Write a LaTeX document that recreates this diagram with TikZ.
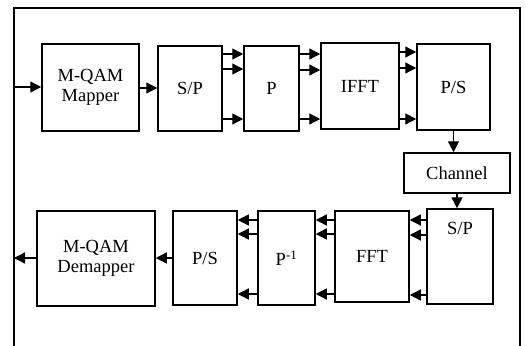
\documentclass[tikz,border=0pt]{standalone}
\usepackage{fontspec}
\setmainfont{Liberation Serif}
\usetikzlibrary{arrows.meta}
\begin{document}
\begin{tikzpicture}[x=1pt,y=-1pt,
  box/.style={draw, line width=1.5pt, inner sep=0pt, align=center,
    font=\fontsize{18.5}{20}\selectfont},
  lbl/.style={inner sep=0pt, font=\fontsize{18.5}{20}\selectfont},
  arr/.style={line width=1.3pt, -{Triangle[length=11pt,width=11pt]}},
  frame/.style={line width=1.7pt}]
\useasboundingbox (0,0) rectangle (526,345);
% outer frame (bottom edge outside the picture)
\draw[frame] (14,350) -- (14,8) -- (520,8) -- (520,350);
% top row
\node[box, minimum width=97pt, minimum height=87pt] (map) at (90.5,87.5) {M-QAM\\Mapper};
\node[box, minimum width=64pt, minimum height=85pt] (sp1) at (190,88.5) {S/P};
\node[box, minimum width=55pt, minimum height=85pt] (p) at (271.5,88.5) {P};
\node[box, minimum width=78pt, minimum height=86pt] (ifft) at (360,86) {IFFT};
\node[box, minimum width=73pt, minimum height=86pt] (ps1) at (453.5,87) {P/S};
\node[box, minimum width=106pt, minimum height=40pt] (chan) at (457,173) {Channel};
% bottom row
\node[box, minimum width=66pt, minimum height=95pt] (sp2) at (460,256.5) {};
\node[lbl] (sp2t) at (460,228) {S/P};
\node[box, minimum width=74pt, minimum height=91pt] (fft) at (372,256.5) {FFT};
\node[box, minimum width=57pt, minimum height=94pt] (pinv) at (286.5,258) {P\textsuperscript{-1}};
\node[box, minimum width=64pt, minimum height=94pt] (ps2) at (205,258) {P/S};
\node[box, minimum width=118pt, minimum height=95pt] (dem) at (96,258.5) {M-QAM\\Demapper};
% free ends on the frame
\coordinate (in) at (14,87);
\coordinate (out) at (14,258);
% connectors
\draw[arr] (in) -- (in -| map.west);
\draw[arr] (map.east |- 0,88) -- (sp1.west |- 0,88);
\foreach \yy in {54,69,119} {
  \draw[arr] (sp1.east |- 0,\yy) -- (p.west |- 0,\yy);
}
\foreach \yy in {54,70,119} {
  \draw[arr] (p.east |- 0,\yy) -- (ifft.west |- 0,\yy);
}
\foreach \yy in {52,68,119} {
  \draw[arr] (ifft.east |- 0,\yy) -- (ps1.west |- 0,\yy);
}
\draw[arr] (ps1.south) -- (ps1.south |- chan.north);
\draw[arr] (chan.south) -- (chan.south |- sp2.north);
\foreach \yy in {220,235,295} {
  \draw[arr] (sp2.west |- 0,\yy) -- (fft.east |- 0,\yy);
}
\foreach \yy in {220,234,294} {
  \draw[arr] (fft.west |- 0,\yy) -- (pinv.east |- 0,\yy);
  \draw[arr] (pinv.west |- 0,\yy) -- (ps2.east |- 0,\yy);
}
\draw[arr] (ps2.west |- 0,258) -- (dem.east |- 0,258);
\draw[arr] (dem.west |- out) -- (out);
\end{tikzpicture}
\end{document}
